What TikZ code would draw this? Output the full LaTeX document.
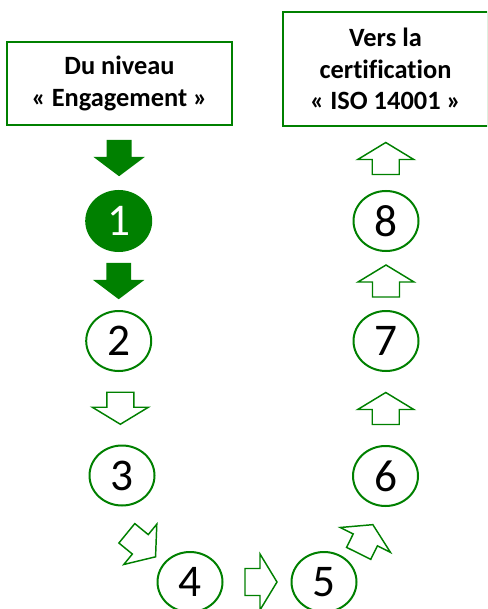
\documentclass[tikz,border=0pt]{standalone}
\usepackage{fontspec}
\setmainfont{Carlito}[Ligatures=NoCommon]
\usetikzlibrary{shapes.geometric,calc}
\definecolor{stepgreen}{RGB}{0,128,0}
\tikzset{
  level/.style={draw=stepgreen, line width=1.5pt, ellipse, minimum width=48.75pt,
    minimum height=45pt, inner sep=0pt, font=\fontsize{34}{34}\selectfont},
  goal/.style={draw=stepgreen, line width=1.5pt, align=center, inner sep=0pt,
    font=\bfseries\fontsize{19.8}{23.6}\selectfont},
  hollow/.style={draw=stepgreen, fill=white, line width=1.1pt},
  full/.style={fill=stepgreen},
  pics/blockarrow/.style={code={
    \path[pic actions] (-16,-13.5) -- (-1,-13.5) -- (-1,-28) -- (16,0)
      -- (-1,28) -- (-1,13.5) -- (-16,13.5) -- cycle;
  }},
}
\begin{document}
\begin{tikzpicture}[x=0.75pt,y=0.75pt]

  \useasboundingbox (0,0) rectangle (487,-609);
  \clip (0,0) rectangle (487,-609);

  \node[goal, minimum width=168.75pt, minimum height=62.25pt] (start) at (119.5,-83.5)
    {Du niveau\\« Engagement »};
  \node[goal, minimum width=153.75pt, minimum height=85.5pt] (target) at (385.5,-69)
    {Vers la\\certification\\« ISO 14001 »};

  \node[level, fill=stepgreen, text=white] (s1) at (118.7,-221) {1};
  \node[level] (s2) at (118.7,-341) {2};
  \node[level] (s3) at (122,-475.5) {3};
  \node[level] (s4) at (190,-582) {4};
  \node[level] (s5) at (324,-582) {5};
  \node[level] (s6) at (385.5,-476) {6};
  \node[level] (s7) at (386,-341) {7};
  \node[level] (s8) at (386,-221) {8};

  \pic[full, rotate=-90, xscale=1.14, yscale=0.92] at ($(start.south)!0.5!(s1.north)$) {blockarrow};
  \pic[full, rotate=-90, xscale=1.14, yscale=0.92] at ($(s1.south)!0.5!(s2.north)$) {blockarrow};
  \pic[hollow, rotate=-90] at ($(s2.south)!0.5!(s3.north)$) {blockarrow};
  \pic[hollow, rotate=-39.3, xscale=1.16, yscale=0.93] at ($(s3)!0.5!(s4)+(-14.8,-16.3)$) {blockarrow};
  \pic[hollow] at ($(s4)!0.5!(s5)+(4,0)$) {blockarrow};
  \pic[hollow, rotate=63.7] at ($(s5)!0.5!(s6)+(11,-10)$) {blockarrow};
  \pic[hollow, rotate=90] at ($(s6.north)!0.5!(s7.south)$) {blockarrow};
  \pic[hollow, rotate=90] at ($(s7.north)!0.5!(s8.south)$) {blockarrow};
  \pic[hollow, rotate=90] at ($(s8.north)!0.5!(target.south)$) {blockarrow};

\end{tikzpicture}
\end{document}
